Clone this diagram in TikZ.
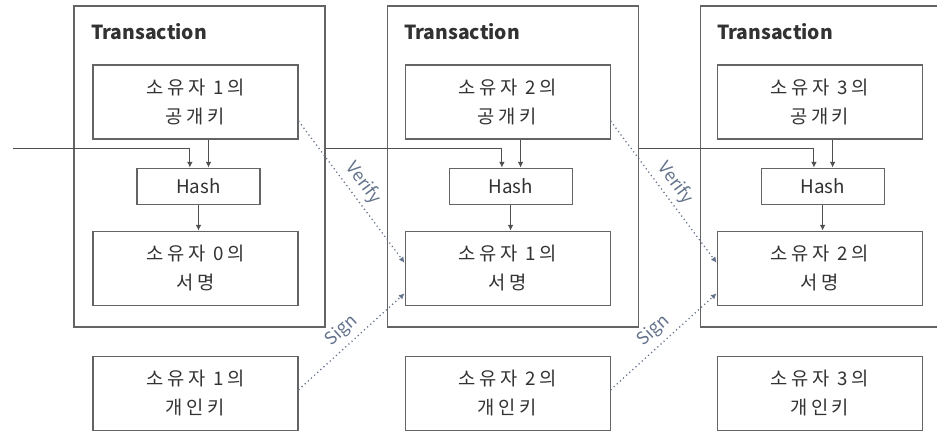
\documentclass[tikz,border=0pt]{standalone}
\usepackage{fontspec}
\setmainfont{Noto Sans CJK KR}
\newfontfamily\korfont[LetterSpace=20]{Noto Sans CJK KR}
\usetikzlibrary{
  arrows.meta,
  positioning,
  calc
}
\definecolor{FrameGray}{RGB}{100,100,100}
\definecolor{TextGray}{RGB}{50,50,50}
\definecolor{LinkBlue}{RGB}{100,115,140}
\tikzset{
  txframe/.style={draw=FrameGray,line width=0.9pt,minimum width=75.3mm,minimum height=96.3mm},
  txtitle/.style={anchor=west,inner sep=0pt,text=TextGray,font=\bfseries\fontsize{16.5}{18}\selectfont},
  keybox/.style={draw=FrameGray,line width=0.9pt,minimum width=61.5mm,minimum height=22.2mm,align=center,text=TextGray,font=\korfont\fontsize{16}{25}\selectfont},
  hashbox/.style={draw=FrameGray,line width=0.9pt,minimum width=36.9mm,minimum height=10.8mm,text=TextGray,font=\fontsize{16}{18}\selectfont},
  flow/.style={-{Latex[length=1.7mm,width=1.7mm]},line width=0.8pt,draw=FrameGray!80!black},
  link/.style={-{Latex[length=1.7mm,width=1.7mm]},line width=1.1pt,dash pattern=on 1pt off 2.6pt,draw=LinkBlue},
  linklabel/.style={above=1pt,sloped,text=LinkBlue,font=\fontsize{15}{17}\selectfont}
}

\begin{document}
\begin{tikzpicture}[x=0.3mm,y=-0.3mm]
\useasboundingbox (0,0) rectangle (937,431);
\clip (0,0) rectangle (937,431);
\fill[white] (0,0) rectangle (937,431);

\node[txframe] (tx1) at (199.5,166.5) {};
\node[txframe, right=18.3mm of tx1] (tx2) {};
\node[txframe, right=18.3mm of tx2] (tx3) {};
\node[txtitle] (title1) at ($(tx1.north west)+(5.2mm,-7.8mm)$) {Transaction};
\node[txtitle] (title2) at ($(tx2.north west)+(5.2mm,-7.8mm)$) {Transaction};
\node[txtitle] (title3) at ($(tx3.north west)+(5.2mm,-7.8mm)$) {Transaction};

\node[keybox] (pub1) at (195.5,102) {소유자 1의\\공개키};
\node[keybox, right=31.8mm of pub1] (pub2) {소유자 2의\\공개키};
\node[keybox, right=31.8mm of pub2] (pub3) {소유자 3의\\공개키};

\node[hashbox, below=8.4mm of pub1, xshift=0.9mm] (hash1) {Hash};
\node[hashbox, below=8.4mm of pub2, xshift=0.9mm] (hash2) {Hash};
\node[hashbox, below=8.4mm of pub3, xshift=0.9mm] (hash3) {Hash};

\node[keybox, below=27.3mm of pub1] (sig1) {소유자 0의\\서명};
\node[keybox, below=27.3mm of pub2] (sig2) {소유자 1의\\서명};
\node[keybox, below=27.3mm of pub3] (sig3) {소유자 2의\\서명};

\node[keybox, below=15mm of sig1] (priv1) {소유자 1의\\개인키};
\node[keybox, below=15mm of sig2] (priv2) {소유자 2의\\개인키};
\node[keybox, below=15mm of sig3] (priv3) {소유자 3의\\개인키};

\coordinate (in0) at (13,148);

% previous transaction into hash
\draw[flow] (in0) -| ([xshift=-2.6mm]hash1.north);
\draw[flow] (tx1.east |- in0) -| ([xshift=-2.6mm]hash2.north);
\draw[flow] (tx2.east |- in0) -| ([xshift=-2.6mm]hash3.north);

% public key into hash
\draw[flow] ([xshift=3mm]hash1.north |- pub1.south) -- ([xshift=3mm]hash1.north);
\draw[flow] ([xshift=3mm]hash2.north |- pub2.south) -- ([xshift=3mm]hash2.north);
\draw[flow] ([xshift=3mm]hash3.north |- pub3.south) -- ([xshift=3mm]hash3.north);

% hash into signature
\draw[flow] (hash1.south) -- (hash1.south |- sig1.north);
\draw[flow] (hash2.south) -- (hash2.south |- sig2.north);
\draw[flow] (hash3.south) -- (hash3.south |- sig3.north);

% verify and sign
\draw[link] ([yshift=-5.7mm]pub1.east) -- node[linklabel]{Verify} ([yshift=1.6mm]sig2.west);
\draw[link] ([yshift=-5.7mm]pub2.east) -- node[linklabel]{Verify} ([yshift=1.6mm]sig3.west);
\draw[link] ([yshift=1mm]priv1.east) -- node[linklabel]{Sign} ([yshift=-7.6mm]sig2.west);
\draw[link] ([yshift=1mm]priv2.east) -- node[linklabel]{Sign} ([yshift=-7.6mm]sig3.west);
\end{tikzpicture}
\end{document}
